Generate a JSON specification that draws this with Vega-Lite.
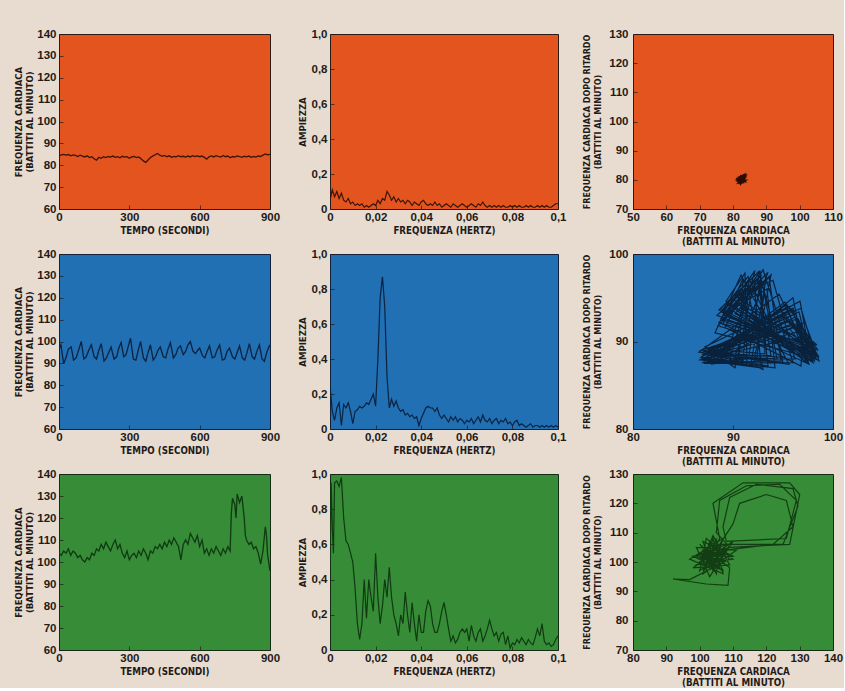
{
"$schema": "https://vega.github.io/schema/vega-lite/v6.json",
"background": "#e8dcd0",
"padding": {"left": 13, "top": 27, "right": 0, "bottom": 0},
"datasets": {
"ts1": [{"t":0,"hr":84.2},{"t":10,"hr":84.8},{"t":20,"hr":85.0},{"t":30,"hr":84.6},{"t":40,"hr":84.9},{"t":50,"hr":84.3},{"t":60,"hr":84.7},{"t":70,"hr":84.5},{"t":80,"hr":84.0},{"t":90,"hr":84.6},{"t":100,"hr":84.2},{"t":110,"hr":83.8},{"t":120,"hr":84.3},{"t":130,"hr":83.5},{"t":140,"hr":83.9},{"t":150,"hr":83.0},{"t":160,"hr":82.3},{"t":170,"hr":83.6},{"t":180,"hr":83.2},{"t":190,"hr":83.9},{"t":200,"hr":83.5},{"t":210,"hr":84.0},{"t":220,"hr":83.7},{"t":230,"hr":84.2},{"t":240,"hr":83.6},{"t":250,"hr":83.9},{"t":260,"hr":83.4},{"t":270,"hr":84.1},{"t":280,"hr":83.7},{"t":290,"hr":83.9},{"t":300,"hr":83.2},{"t":310,"hr":83.8},{"t":320,"hr":84.0},{"t":330,"hr":83.5},{"t":340,"hr":83.8},{"t":350,"hr":83.0},{"t":360,"hr":82.0},{"t":370,"hr":81.3},{"t":380,"hr":82.4},{"t":390,"hr":83.5},{"t":400,"hr":84.2},{"t":410,"hr":84.8},{"t":420,"hr":85.4},{"t":430,"hr":84.6},{"t":440,"hr":84.1},{"t":450,"hr":84.5},{"t":460,"hr":83.9},{"t":470,"hr":84.3},{"t":480,"hr":83.6},{"t":490,"hr":84.0},{"t":500,"hr":83.8},{"t":510,"hr":84.4},{"t":520,"hr":83.9},{"t":530,"hr":84.1},{"t":540,"hr":83.7},{"t":550,"hr":84.2},{"t":560,"hr":83.8},{"t":570,"hr":84.4},{"t":580,"hr":84.0},{"t":590,"hr":84.3},{"t":600,"hr":83.9},{"t":610,"hr":84.2},{"t":620,"hr":83.6},{"t":630,"hr":82.8},{"t":640,"hr":83.9},{"t":650,"hr":84.3},{"t":660,"hr":83.8},{"t":670,"hr":84.4},{"t":680,"hr":84.0},{"t":690,"hr":83.7},{"t":700,"hr":84.5},{"t":710,"hr":83.9},{"t":720,"hr":84.2},{"t":730,"hr":83.4},{"t":740,"hr":84.0},{"t":750,"hr":83.7},{"t":760,"hr":84.3},{"t":770,"hr":84.0},{"t":780,"hr":83.6},{"t":790,"hr":84.1},{"t":800,"hr":83.8},{"t":810,"hr":84.2},{"t":820,"hr":83.6},{"t":830,"hr":84.0},{"t":840,"hr":83.7},{"t":850,"hr":84.3},{"t":860,"hr":84.0},{"t":870,"hr":84.6},{"t":880,"hr":85.2},{"t":890,"hr":84.8},{"t":900,"hr":85.0}],
"ts2": [{"t":0,"hr":96.5},{"t":8,"hr":98.5},{"t":20,"hr":89.8},{"t":31,"hr":93},{"t":40,"hr":96.5},{"t":52,"hr":97.5},{"t":62,"hr":91.5},{"t":73,"hr":92.5},{"t":82,"hr":95.5},{"t":95,"hr":100},{"t":106,"hr":92},{"t":116,"hr":93},{"t":127,"hr":96},{"t":138,"hr":98.5},{"t":150,"hr":93},{"t":160,"hr":92},{"t":170,"hr":96},{"t":180,"hr":99},{"t":192,"hr":91},{"t":202,"hr":92.5},{"t":212,"hr":95},{"t":222,"hr":97.5},{"t":235,"hr":92},{"t":246,"hr":93},{"t":255,"hr":97},{"t":265,"hr":99.5},{"t":276,"hr":93},{"t":286,"hr":94},{"t":296,"hr":98},{"t":305,"hr":101.5},{"t":317,"hr":92},{"t":328,"hr":91.5},{"t":338,"hr":96},{"t":348,"hr":100},{"t":360,"hr":92.5},{"t":370,"hr":91},{"t":380,"hr":95},{"t":390,"hr":98.5},{"t":402,"hr":91.5},{"t":412,"hr":93},{"t":422,"hr":96},{"t":432,"hr":97.5},{"t":445,"hr":93},{"t":455,"hr":92.5},{"t":465,"hr":96.5},{"t":475,"hr":99.5},{"t":488,"hr":92.5},{"t":498,"hr":94},{"t":508,"hr":97},{"t":518,"hr":98},{"t":530,"hr":94},{"t":540,"hr":95.5},{"t":550,"hr":98.5},{"t":560,"hr":100},{"t":572,"hr":95.5},{"t":582,"hr":94.5},{"t":592,"hr":96},{"t":600,"hr":97},{"t":612,"hr":93.5},{"t":622,"hr":92.5},{"t":632,"hr":95.5},{"t":642,"hr":98},{"t":654,"hr":92.5},{"t":664,"hr":93},{"t":674,"hr":96},{"t":685,"hr":98.5},{"t":697,"hr":91.5},{"t":707,"hr":92},{"t":717,"hr":95.5},{"t":727,"hr":97},{"t":740,"hr":93},{"t":750,"hr":92},{"t":760,"hr":95},{"t":770,"hr":98},{"t":782,"hr":92.5},{"t":792,"hr":91.5},{"t":802,"hr":95},{"t":812,"hr":99},{"t":824,"hr":93},{"t":834,"hr":92},{"t":844,"hr":95.5},{"t":855,"hr":98.5},{"t":866,"hr":92},{"t":876,"hr":91},{"t":886,"hr":95},{"t":897,"hr":98},{"t":900,"hr":97.5}],
"ts3": [{"t":0,"hr":104},{"t":10,"hr":103},{"t":20,"hr":105},{"t":30,"hr":104},{"t":40,"hr":106},{"t":50,"hr":103},{"t":60,"hr":105},{"t":70,"hr":104},{"t":80,"hr":102},{"t":90,"hr":103},{"t":100,"hr":101},{"t":110,"hr":100},{"t":120,"hr":102},{"t":130,"hr":101},{"t":140,"hr":104},{"t":150,"hr":103},{"t":160,"hr":106},{"t":170,"hr":105},{"t":180,"hr":108},{"t":190,"hr":106},{"t":200,"hr":109},{"t":210,"hr":107},{"t":220,"hr":105},{"t":230,"hr":108},{"t":240,"hr":110},{"t":250,"hr":106},{"t":260,"hr":108},{"t":270,"hr":104},{"t":280,"hr":102},{"t":290,"hr":105},{"t":300,"hr":101},{"t":310,"hr":103},{"t":320,"hr":104},{"t":330,"hr":102},{"t":340,"hr":105},{"t":350,"hr":103},{"t":360,"hr":106},{"t":370,"hr":104},{"t":380,"hr":101},{"t":390,"hr":105},{"t":400,"hr":104},{"t":410,"hr":107},{"t":420,"hr":106},{"t":430,"hr":108},{"t":440,"hr":106},{"t":450,"hr":109},{"t":460,"hr":107},{"t":470,"hr":110},{"t":480,"hr":108},{"t":490,"hr":111},{"t":500,"hr":109},{"t":510,"hr":107},{"t":520,"hr":101},{"t":530,"hr":108},{"t":540,"hr":110},{"t":550,"hr":108},{"t":560,"hr":113},{"t":570,"hr":111},{"t":580,"hr":109},{"t":590,"hr":112},{"t":600,"hr":107},{"t":610,"hr":110},{"t":620,"hr":104},{"t":630,"hr":106},{"t":640,"hr":103},{"t":650,"hr":106},{"t":660,"hr":104},{"t":670,"hr":107},{"t":680,"hr":105},{"t":690,"hr":103},{"t":700,"hr":106},{"t":710,"hr":104},{"t":720,"hr":107},{"t":730,"hr":105},{"t":735,"hr":122},{"t":740,"hr":129},{"t":750,"hr":126},{"t":755,"hr":120},{"t":760,"hr":131},{"t":770,"hr":127},{"t":780,"hr":130},{"t":790,"hr":120},{"t":795,"hr":112},{"t":800,"hr":110},{"t":810,"hr":108},{"t":820,"hr":109},{"t":830,"hr":106},{"t":840,"hr":107},{"t":850,"hr":104},{"t":860,"hr":99},{"t":870,"hr":105},{"t":880,"hr":116},{"t":885,"hr":112},{"t":890,"hr":103},{"t":900,"hr":96}],
"sp1": [{"f":0,"a":0.05},{"f":0.001,"a":0.11},{"f":0.002,"a":0.07},{"f":0.003,"a":0.10},{"f":0.004,"a":0.06},{"f":0.005,"a":0.09},{"f":0.006,"a":0.05},{"f":0.007,"a":0.04},{"f":0.008,"a":0.06},{"f":0.009,"a":0.03},{"f":0.010,"a":0.04},{"f":0.011,"a":0.02},{"f":0.012,"a":0.03},{"f":0.013,"a":0.02},{"f":0.014,"a":0.03},{"f":0.015,"a":0.01},{"f":0.016,"a":0.02},{"f":0.017,"a":0.01},{"f":0.018,"a":0.02},{"f":0.019,"a":0.03},{"f":0.020,"a":0.02},{"f":0.021,"a":0.05},{"f":0.022,"a":0.03},{"f":0.023,"a":0.06},{"f":0.024,"a":0.05},{"f":0.025,"a":0.10},{"f":0.026,"a":0.08},{"f":0.027,"a":0.05},{"f":0.028,"a":0.07},{"f":0.029,"a":0.04},{"f":0.030,"a":0.06},{"f":0.031,"a":0.04},{"f":0.032,"a":0.05},{"f":0.033,"a":0.03},{"f":0.034,"a":0.05},{"f":0.035,"a":0.04},{"f":0.036,"a":0.02},{"f":0.037,"a":0.04},{"f":0.038,"a":0.03},{"f":0.039,"a":0.02},{"f":0.040,"a":0.04},{"f":0.041,"a":0.05},{"f":0.042,"a":0.03},{"f":0.043,"a":0.02},{"f":0.044,"a":0.03},{"f":0.045,"a":0.02},{"f":0.046,"a":0.04},{"f":0.047,"a":0.02},{"f":0.048,"a":0.03},{"f":0.049,"a":0.01},{"f":0.050,"a":0.02},{"f":0.051,"a":0.03},{"f":0.052,"a":0.02},{"f":0.053,"a":0.01},{"f":0.054,"a":0.03},{"f":0.055,"a":0.02},{"f":0.056,"a":0.01},{"f":0.057,"a":0.02},{"f":0.058,"a":0.03},{"f":0.059,"a":0.02},{"f":0.060,"a":0.01},{"f":0.061,"a":0.02},{"f":0.062,"a":0.03},{"f":0.063,"a":0.02},{"f":0.064,"a":0.01},{"f":0.065,"a":0.03},{"f":0.066,"a":0.02},{"f":0.067,"a":0.04},{"f":0.068,"a":0.02},{"f":0.069,"a":0.01},{"f":0.070,"a":0.02},{"f":0.071,"a":0.01},{"f":0.072,"a":0.02},{"f":0.073,"a":0.01},{"f":0.074,"a":0.02},{"f":0.075,"a":0.01},{"f":0.076,"a":0.02},{"f":0.077,"a":0.01},{"f":0.078,"a":0.01},{"f":0.079,"a":0.02},{"f":0.080,"a":0.01},{"f":0.081,"a":0.02},{"f":0.082,"a":0.01},{"f":0.083,"a":0.02},{"f":0.084,"a":0.01},{"f":0.085,"a":0.01},{"f":0.086,"a":0.02},{"f":0.087,"a":0.01},{"f":0.088,"a":0.02},{"f":0.089,"a":0.01},{"f":0.090,"a":0.01},{"f":0.091,"a":0.02},{"f":0.092,"a":0.01},{"f":0.093,"a":0.02},{"f":0.094,"a":0.01},{"f":0.095,"a":0.02},{"f":0.096,"a":0.01},{"f":0.097,"a":0.01},{"f":0.098,"a":0.02},{"f":0.099,"a":0.03},{"f":0.100,"a":0.03}],
"sp2": [{"f":0,"a":0.25},{"f":0.001,"a":0.10},{"f":0.002,"a":0.05},{"f":0.003,"a":0.12},{"f":0.004,"a":0.15},{"f":0.005,"a":0.02},{"f":0.006,"a":0.14},{"f":0.007,"a":0.12},{"f":0.008,"a":0.15},{"f":0.009,"a":0.10},{"f":0.010,"a":0.03},{"f":0.011,"a":0.10},{"f":0.012,"a":0.11},{"f":0.013,"a":0.13},{"f":0.014,"a":0.12},{"f":0.015,"a":0.13},{"f":0.016,"a":0.15},{"f":0.017,"a":0.14},{"f":0.018,"a":0.17},{"f":0.019,"a":0.20},{"f":0.020,"a":0.13},{"f":0.021,"a":0.40},{"f":0.022,"a":0.75},{"f":0.023,"a":0.87},{"f":0.024,"a":0.70},{"f":0.025,"a":0.30},{"f":0.026,"a":0.12},{"f":0.027,"a":0.17},{"f":0.028,"a":0.13},{"f":0.029,"a":0.16},{"f":0.030,"a":0.12},{"f":0.031,"a":0.10},{"f":0.032,"a":0.11},{"f":0.033,"a":0.08},{"f":0.034,"a":0.09},{"f":0.035,"a":0.07},{"f":0.036,"a":0.08},{"f":0.037,"a":0.06},{"f":0.038,"a":0.07},{"f":0.039,"a":0.02},{"f":0.040,"a":0.06},{"f":0.041,"a":0.09},{"f":0.042,"a":0.12},{"f":0.043,"a":0.13},{"f":0.044,"a":0.12},{"f":0.045,"a":0.12},{"f":0.046,"a":0.10},{"f":0.047,"a":0.12},{"f":0.048,"a":0.08},{"f":0.049,"a":0.06},{"f":0.050,"a":0.08},{"f":0.051,"a":0.06},{"f":0.052,"a":0.04},{"f":0.053,"a":0.07},{"f":0.054,"a":0.05},{"f":0.055,"a":0.07},{"f":0.056,"a":0.04},{"f":0.057,"a":0.06},{"f":0.058,"a":0.05},{"f":0.059,"a":0.03},{"f":0.060,"a":0.05},{"f":0.061,"a":0.04},{"f":0.062,"a":0.06},{"f":0.063,"a":0.03},{"f":0.064,"a":0.05},{"f":0.065,"a":0.07},{"f":0.066,"a":0.04},{"f":0.067,"a":0.08},{"f":0.068,"a":0.05},{"f":0.069,"a":0.04},{"f":0.070,"a":0.06},{"f":0.071,"a":0.03},{"f":0.072,"a":0.05},{"f":0.073,"a":0.06},{"f":0.074,"a":0.03},{"f":0.075,"a":0.05},{"f":0.076,"a":0.04},{"f":0.077,"a":0.06},{"f":0.078,"a":0.03},{"f":0.079,"a":0.04},{"f":0.080,"a":0.02},{"f":0.081,"a":0.04},{"f":0.082,"a":0.05},{"f":0.083,"a":0.02},{"f":0.084,"a":0.03},{"f":0.085,"a":0.02},{"f":0.086,"a":0.01},{"f":0.087,"a":0.02},{"f":0.088,"a":0.03},{"f":0.089,"a":0.01},{"f":0.090,"a":0.02},{"f":0.091,"a":0.02},{"f":0.092,"a":0.01},{"f":0.093,"a":0.02},{"f":0.094,"a":0.01},{"f":0.095,"a":0.02},{"f":0.096,"a":0.01},{"f":0.097,"a":0.02},{"f":0.098,"a":0.01},{"f":0.099,"a":0.02},{"f":0.100,"a":0.01}],
"sp3": [{"f":0,"a":0.45},{"f":0.0005,"a":0.95},{"f":0.001,"a":0.70},{"f":0.0015,"a":0.55},{"f":0.002,"a":0.95},{"f":0.003,"a":0.96},{"f":0.004,"a":0.93},{"f":0.005,"a":0.98},{"f":0.006,"a":0.75},{"f":0.007,"a":0.62},{"f":0.008,"a":0.60},{"f":0.009,"a":0.55},{"f":0.010,"a":0.50},{"f":0.011,"a":0.35},{"f":0.012,"a":0.15},{"f":0.013,"a":0.06},{"f":0.014,"a":0.15},{"f":0.015,"a":0.40},{"f":0.016,"a":0.18},{"f":0.017,"a":0.40},{"f":0.018,"a":0.30},{"f":0.019,"a":0.22},{"f":0.020,"a":0.55},{"f":0.021,"a":0.30},{"f":0.022,"a":0.15},{"f":0.023,"a":0.25},{"f":0.024,"a":0.40},{"f":0.025,"a":0.30},{"f":0.026,"a":0.47},{"f":0.027,"a":0.30},{"f":0.028,"a":0.20},{"f":0.029,"a":0.15},{"f":0.030,"a":0.08},{"f":0.031,"a":0.20},{"f":0.032,"a":0.15},{"f":0.033,"a":0.33},{"f":0.034,"a":0.20},{"f":0.035,"a":0.10},{"f":0.036,"a":0.27},{"f":0.037,"a":0.15},{"f":0.038,"a":0.05},{"f":0.039,"a":0.20},{"f":0.040,"a":0.10},{"f":0.041,"a":0.10},{"f":0.042,"a":0.22},{"f":0.043,"a":0.28},{"f":0.044,"a":0.25},{"f":0.045,"a":0.15},{"f":0.046,"a":0.10},{"f":0.047,"a":0.10},{"f":0.048,"a":0.15},{"f":0.049,"a":0.22},{"f":0.050,"a":0.27},{"f":0.051,"a":0.20},{"f":0.052,"a":0.12},{"f":0.053,"a":0.05},{"f":0.054,"a":0.08},{"f":0.055,"a":0.04},{"f":0.056,"a":0.06},{"f":0.057,"a":0.10},{"f":0.058,"a":0.12},{"f":0.059,"a":0.10},{"f":0.060,"a":0.12},{"f":0.061,"a":0.05},{"f":0.062,"a":0.14},{"f":0.063,"a":0.08},{"f":0.064,"a":0.05},{"f":0.065,"a":0.10},{"f":0.066,"a":0.12},{"f":0.067,"a":0.05},{"f":0.068,"a":0.08},{"f":0.069,"a":0.12},{"f":0.070,"a":0.17},{"f":0.071,"a":0.12},{"f":0.072,"a":0.08},{"f":0.073,"a":0.10},{"f":0.074,"a":0.05},{"f":0.075,"a":0.09},{"f":0.076,"a":0.10},{"f":0.077,"a":0.03},{"f":0.078,"a":0.08},{"f":0.079,"a":0.01},{"f":0.080,"a":0.04},{"f":0.081,"a":0.03},{"f":0.082,"a":0.06},{"f":0.083,"a":0.04},{"f":0.084,"a":0.07},{"f":0.085,"a":0.05},{"f":0.086,"a":0.03},{"f":0.087,"a":0.06},{"f":0.088,"a":0.04},{"f":0.089,"a":0.03},{"f":0.090,"a":0.07},{"f":0.091,"a":0.12},{"f":0.092,"a":0.08},{"f":0.093,"a":0.15},{"f":0.094,"a":0.05},{"f":0.095,"a":0.03},{"f":0.096,"a":0.04},{"f":0.097,"a":0.02},{"f":0.098,"a":0.03},{"f":0.099,"a":0.06},{"f":0.100,"a":0.08}],
"ph1": [{"i":0,"x":82.0,"y":80.2},{"i":1,"x":83.2,"y":79.4},{"i":2,"x":81.6,"y":79.0},{"i":3,"x":82.8,"y":80.8},{"i":4,"x":83.5,"y":80.0},{"i":5,"x":81.8,"y":80.6},{"i":6,"x":82.4,"y":78.8},{"i":7,"x":83.6,"y":80.7},{"i":8,"x":81.3,"y":79.9},{"i":9,"x":82.9,"y":79.2},{"i":10,"x":82.1,"y":81.1},{"i":11,"x":83.8,"y":81.5},{"i":12,"x":82.6,"y":79.8},{"i":13,"x":81.5,"y":79.4},{"i":14,"x":83.0,"y":80.5},{"i":15,"x":82.2,"y":78.6},{"i":16,"x":81.2,"y":80.4},{"i":17,"x":83.4,"y":81.0},{"i":18,"x":82.7,"y":79.1},{"i":19,"x":81.9,"y":80.0},{"i":20,"x":83.1,"y":80.2},{"i":21,"x":82.3,"y":81.3},{"i":22,"x":81.4,"y":79.7},{"i":23,"x":83.7,"y":79.8},{"i":24,"x":82.5,"y":78.9},{"i":25,"x":81.7,"y":80.8},{"i":26,"x":83.3,"y":81.7},{"i":27,"x":82.0,"y":79.5},{"i":28,"x":83.6,"y":79.4},{"i":29,"x":82.4,"y":80.7}],
"ph2": [{"i":0,"x":92.5,"y":97.8},{"i":1,"x":93.5,"y":87.2},{"i":2,"x":86.8,"y":88.2},{"i":3,"x":95.9,"y":93.6},{"i":4,"x":98.2,"y":88.0},{"i":5,"x":89.0,"y":93.4},{"i":6,"x":91.6,"y":97.0},{"i":7,"x":91.0,"y":87.6},{"i":8,"x":87.5,"y":89.0},{"i":9,"x":96.4,"y":92.0},{"i":10,"x":97.6,"y":87.4},{"i":11,"x":88.6,"y":92.2},{"i":12,"x":93.6,"y":97.4},{"i":13,"x":94.8,"y":87.8},{"i":14,"x":87.0,"y":87.6},{"i":15,"x":95.2,"y":94.5},{"i":16,"x":98.5,"y":89.0},{"i":17,"x":90.0,"y":94.8},{"i":18,"x":92.0,"y":96.2},{"i":19,"x":90.2,"y":87.0},{"i":20,"x":88.2,"y":88.6},{"i":21,"x":96.8,"y":91.2},{"i":22,"x":97.0,"y":88.4},{"i":23,"x":88.2,"y":91.0},{"i":24,"x":90.8,"y":97.6},{"i":25,"x":95.6,"y":87.4},{"i":26,"x":86.6,"y":88.8},{"i":27,"x":94.6,"y":95.4},{"i":28,"x":98.0,"y":87.6},{"i":29,"x":89.6,"y":93.8},{"i":30,"x":93.2,"y":96.6},{"i":31,"x":92.4,"y":88.2},{"i":32,"x":87.8,"y":87.4},{"i":33,"x":96.2,"y":92.8},{"i":34,"x":97.4,"y":89.4},{"i":35,"x":88.8,"y":92.6},{"i":36,"x":92.2,"y":98.1},{"i":37,"x":89.6,"y":87.6},{"i":38,"x":87.2,"y":89.4},{"i":39,"x":95.6,"y":94.0},{"i":40,"x":98.6,"y":88.2},{"i":41,"x":90.4,"y":95.2},{"i":42,"x":94.0,"y":97.0},{"i":43,"x":96.2,"y":88.0},{"i":44,"x":86.9,"y":88.0},{"i":45,"x":97.0,"y":90.6},{"i":46,"x":96.8,"y":87.2},{"i":47,"x":89.2,"y":91.6},{"i":48,"x":91.4,"y":96.6},{"i":49,"x":93.0,"y":86.8},{"i":50,"x":88.0,"y":89.2},{"i":51,"x":95.0,"y":93.0},{"i":52,"x":98.3,"y":88.6},{"i":53,"x":88.4,"y":93.0},{"i":54,"x":92.8,"y":97.5},{"i":55,"x":91.6,"y":88.4},{"i":56,"x":87.4,"y":88.4},{"i":57,"x":96.6,"y":93.4},{"i":58,"x":97.8,"y":87.8},{"i":59,"x":90.6,"y":94.2},{"i":60,"x":93.4,"y":96.0},{"i":61,"x":94.2,"y":87.0},{"i":62,"x":86.7,"y":87.9},{"i":63,"x":95.4,"y":92.4},{"i":64,"x":98.4,"y":89.6},{"i":65,"x":89.0,"y":92.0},{"i":66,"x":91.0,"y":97.2},{"i":67,"x":90.6,"y":88.0},{"i":68,"x":88.4,"y":88.0},{"i":69,"x":96.0,"y":95.0},{"i":70,"x":97.2,"y":88.0},{"i":71,"x":88.6,"y":93.6},{"i":72,"x":92.6,"y":98.0},{"i":73,"x":95.0,"y":87.6},{"i":74,"x":87.0,"y":88.9},{"i":75,"x":96.9,"y":91.8},{"i":76,"x":98.1,"y":88.5},{"i":77,"x":90.2,"y":93.2},{"i":78,"x":93.8,"y":97.6},{"i":79,"x":92.0,"y":87.2},{"i":80,"x":87.6,"y":87.7},{"i":81,"x":95.3,"y":94.2},{"i":82,"x":97.5,"y":87.5},{"i":83,"x":89.4,"y":94.4},{"i":84,"x":91.8,"y":96.4},{"i":85,"x":89.2,"y":88.2},{"i":86,"x":86.8,"y":89.0},{"i":87,"x":96.5,"y":92.6},{"i":88,"x":98.4,"y":88.3},{"i":89,"x":88.9,"y":92.4},{"i":90,"x":92.4,"y":97.2},{"i":91,"x":93.8,"y":88.4},{"i":92,"x":87.9,"y":88.3},{"i":93,"x":94.8,"y":93.6},{"i":94,"x":97.9,"y":89.2},{"i":95,"x":90.8,"y":93.8},{"i":96,"x":93.0,"y":98.2},{"i":97,"x":96.0,"y":87.6},{"i":98,"x":87.1,"y":87.5},{"i":99,"x":97.2,"y":92.2},{"i":100,"x":98.6,"y":87.8},{"i":101,"x":89.3,"y":94.6},{"i":102,"x":91.2,"y":97.8},{"i":103,"x":91.4,"y":87.4},{"i":104,"x":88.6,"y":89.4},{"i":105,"x":96.0,"y":93.8},{"i":106,"x":97.1,"y":88.8},{"i":107,"x":88.5,"y":91.8},{"i":108,"x":92.9,"y":96.8},{"i":109,"x":94.4,"y":88.0},{"i":110,"x":86.9,"y":88.5},{"i":111,"x":95.7,"y":91.4},{"i":112,"x":98.2,"y":87.7},{"i":113,"x":90.1,"y":94.0},{"i":114,"x":93.5,"y":97.9},{"i":115,"x":90.0,"y":87.8},{"i":116,"x":87.6,"y":88.9},{"i":117,"x":96.7,"y":94.6},{"i":118,"x":97.6,"y":89.0},{"i":119,"x":89.1,"y":93.0},{"i":120,"x":92.1,"y":96.9},{"i":121,"x":92.8,"y":87.0},{"i":122,"x":87.3,"y":87.8},{"i":123,"x":95.1,"y":92.8},{"i":124,"x":98.5,"y":88.4},{"i":125,"x":88.8,"y":93.4},{"i":126,"x":91.5,"y":97.4},{"i":127,"x":95.2,"y":88.2},{"i":128,"x":88.0,"y":88.7},{"i":129,"x":96.3,"y":93.2},{"i":130,"x":97.3,"y":87.6},{"i":131,"x":90.3,"y":94.5},{"i":132,"x":93.3,"y":97.1},{"i":133,"x":91.8,"y":87.5},{"i":134,"x":86.8,"y":88.0},{"i":135,"x":95.9,"y":92.0},{"i":136,"x":98.0,"y":89.3},{"i":137,"x":89.5,"y":92.8},{"i":138,"x":92.7,"y":98.0},{"i":139,"x":93.2,"y":88.6},{"i":140,"x":87.5,"y":89.1},{"i":141,"x":96.8,"y":93.8},{"i":142,"x":98.3,"y":88.1},{"i":143,"x":88.7,"y":93.8}],
"ph3": [{"i":0,"x":104,"y":106},{"i":1,"x":106,"y":98},{"i":2,"x":100,"y":103},{"i":3,"x":108,"y":103},{"i":4,"x":101,"y":99},{"i":5,"x":103,"y":107},{"i":6,"x":107,"y":97},{"i":7,"x":98,"y":102},{"i":8,"x":109,"y":105},{"i":9,"x":100,"y":97},{"i":10,"x":102,"y":108},{"i":11,"x":110,"y":101},{"i":12,"x":99,"y":99},{"i":13,"x":106,"y":106},{"i":14,"x":105,"y":96},{"i":15,"x":101,"y":104},{"i":16,"x":107,"y":101},{"i":17,"x":104,"y":98},{"i":18,"x":103,"y":104},{"i":19,"x":105,"y":99},{"i":20,"x":102,"y":103},{"i":21,"x":106,"y":103},{"i":22,"x":101,"y":101},{"i":23,"x":104,"y":109},{"i":24,"x":109,"y":99},{"i":25,"x":98,"y":98},{"i":26,"x":110,"y":107},{"i":27,"x":103,"y":95},{"i":28,"x":99,"y":105},{"i":29,"x":111,"y":104},{"i":30,"x":101,"y":96},{"i":31,"x":104,"y":108},{"i":32,"x":107,"y":96},{"i":33,"x":97,"y":101},{"i":34,"x":107,"y":108},{"i":35,"x":104,"y":97},{"i":36,"x":101,"y":107},{"i":37,"x":110,"y":102},{"i":38,"x":100,"y":100},{"i":39,"x":106,"y":104},{"i":40,"x":102,"y":105},{"i":41,"x":105,"y":100},{"i":42,"x":103,"y":99},{"i":43,"x":103,"y":102},{"i":44,"x":106,"y":108},{"i":45,"x":104,"y":120},{"i":46,"x":113,"y":127},{"i":47,"x":127,"y":127},{"i":48,"x":130,"y":123},{"i":49,"x":127,"y":106},{"i":50,"x":109,"y":105},{"i":51,"x":105,"y":110},{"i":52,"x":106,"y":121},{"i":53,"x":114,"y":126},{"i":54,"x":124,"y":126.5},{"i":55,"x":129,"y":121},{"i":56,"x":126,"y":108},{"i":57,"x":108,"y":107},{"i":58,"x":107,"y":112},{"i":59,"x":109,"y":122},{"i":60,"x":117,"y":126.5},{"i":61,"x":128,"y":125},{"i":62,"x":129.5,"y":119},{"i":63,"x":125,"y":106},{"i":64,"x":106,"y":106},{"i":65,"x":110,"y":113},{"i":66,"x":112,"y":120},{"i":67,"x":120,"y":123},{"i":68,"x":126,"y":121},{"i":69,"x":128,"y":112},{"i":70,"x":122,"y":106},{"i":71,"x":107,"y":104},{"i":72,"x":105,"y":105},{"i":73,"x":102,"y":102},{"i":74,"x":107,"y":102},{"i":75,"x":101,"y":97},{"i":76,"x":104,"y":104},{"i":77,"x":106,"y":98},{"i":78,"x":99,"y":102},{"i":79,"x":108,"y":106},{"i":80,"x":104,"y":99},{"i":81,"x":103,"y":106},{"i":82,"x":109,"y":101},{"i":83,"x":97,"y":94},{"i":84,"x":92,"y":94.2},{"i":85,"x":102,"y":92.5},{"i":86,"x":108.5,"y":92},{"i":87,"x":109,"y":98},{"i":88,"x":100,"y":106},{"i":89,"x":106,"y":99},{"i":90,"x":105,"y":108},{"i":91,"x":102,"y":98},{"i":92,"x":108,"y":104},{"i":93,"x":100,"y":102},{"i":94,"x":106,"y":101},{"i":95,"x":104,"y":105},{"i":96,"x":103,"y":100},{"i":97,"x":105,"y":106}]
},
"concat": [
{"width": 211, "height": 175, "data": {"name": "ts1"},
 "view": {"fill": "#e4541f", "stroke": "#2b1d15", "strokeWidth": 1},
 "mark": {"type": "line", "color": "#3b140a", "strokeWidth": 1.3, "clip": true},
 "encoding": {
  "x": {"field": "t", "type": "quantitative", "scale": {"domain": [0, 900], "nice": false, "zero": false}, "axis": {"values": [0, 300, 600, 900], "title": "TEMPO  (SECONDI)"}},
  "y": {"field": "hr", "type": "quantitative", "scale": {"domain": [60, 140], "nice": false, "zero": false}, "axis": {"values": [60, 70, 80, 90, 100, 110, 120, 130, 140], "title": ["FREQUENZA CARDIACA", "(BATTITI AL MINUTO)"], "titlePadding": 2}}
 }},
{"width": 228, "height": 175, "data": {"name": "sp1"},
 "view": {"fill": "#e4541f", "stroke": "#2b1d15", "strokeWidth": 1},
 "mark": {"type": "line", "color": "#3b140a", "strokeWidth": 1.2, "clip": true},
 "encoding": {
  "x": {"field": "f", "type": "quantitative", "scale": {"domain": [0, 0.1], "nice": false}, "axis": {"values": [0, 0.02, 0.04, 0.06, 0.08, 0.1], "labelExpr": "replace(format(datum.value, '.2~f'), '.', ',')", "title": "FREQUENZA  (HERTZ)"}},
  "y": {"field": "a", "type": "quantitative", "scale": {"domain": [0, 1], "nice": false}, "axis": {"values": [0, 0.2, 0.4, 0.6, 0.8, 1], "labelExpr": "datum.value == 0 ? '0' : replace(format(datum.value, '.1f'), '.', ',')", "title": "AMPIEZZA", "titlePadding": 4}}
 }},
{"width": 200, "height": 175, "data": {"name": "ph1"},
 "view": {"fill": "#e4541f", "stroke": "#2b1d15", "strokeWidth": 1},
 "mark": {"type": "line", "color": "#2a0c05", "strokeWidth": 1.8, "clip": true},
 "encoding": {
  "x": {"field": "x", "type": "quantitative", "scale": {"domain": [50, 110], "nice": false, "zero": false}, "axis": {"values": [50, 60, 70, 80, 90, 100, 110], "title": ["FREQUENZA CARDIACA", "(BATTITI AL MINUTO)"]}},
  "y": {"field": "y", "type": "quantitative", "scale": {"domain": [70, 130], "nice": false, "zero": false}, "axis": {"values": [70, 80, 90, 100, 110, 120, 130], "title": ["FREQUENZA CARDIACA DOPO RITARDO", "(BATTITI AL MINUTO)"], "titlePadding": 6, "labelPadding": 9, "titleFontSize": 8.9}},
  "order": {"field": "i", "type": "quantitative"}
 }},
{"width": 211, "height": 175, "data": {"name": "ts2"},
 "view": {"fill": "#2170b4", "stroke": "#14213a", "strokeWidth": 1},
 "mark": {"type": "line", "color": "#0b2240", "strokeWidth": 1.3, "clip": true},
 "encoding": {
  "x": {"field": "t", "type": "quantitative", "scale": {"domain": [0, 900], "nice": false, "zero": false}, "axis": {"values": [0, 300, 600, 900], "title": "TEMPO  (SECONDI)"}},
  "y": {"field": "hr", "type": "quantitative", "scale": {"domain": [60, 140], "nice": false, "zero": false}, "axis": {"values": [60, 70, 80, 90, 100, 110, 120, 130, 140], "title": ["FREQUENZA CARDIACA", "(BATTITI AL MINUTO)"], "titlePadding": 2}}
 }},
{"width": 228, "height": 175, "data": {"name": "sp2"},
 "view": {"fill": "#2170b4", "stroke": "#14213a", "strokeWidth": 1},
 "mark": {"type": "line", "color": "#0b2240", "strokeWidth": 1.2, "clip": true},
 "encoding": {
  "x": {"field": "f", "type": "quantitative", "scale": {"domain": [0, 0.1], "nice": false}, "axis": {"values": [0, 0.02, 0.04, 0.06, 0.08, 0.1], "labelExpr": "replace(format(datum.value, '.2~f'), '.', ',')", "title": "FREQUENZA  (HERTZ)"}},
  "y": {"field": "a", "type": "quantitative", "scale": {"domain": [0, 1], "nice": false}, "axis": {"values": [0, 0.2, 0.4, 0.6, 0.8, 1], "labelExpr": "datum.value == 0 ? '0' : replace(format(datum.value, '.1f'), '.', ',')", "title": "AMPIEZZA", "titlePadding": 4}}
 }},
{"width": 200, "height": 175, "data": {"name": "ph2"},
 "view": {"fill": "#2170b4", "stroke": "#14213a", "strokeWidth": 1},
 "mark": {"type": "line", "color": "#08182e", "strokeWidth": 1.2, "opacity": 0.9, "clip": true},
 "encoding": {
  "x": {"field": "x", "type": "quantitative", "scale": {"domain": [80, 100], "nice": false, "zero": false}, "axis": {"values": [80, 90, 100], "title": ["FREQUENZA CARDIACA", "(BATTITI AL MINUTO)"]}},
  "y": {"field": "y", "type": "quantitative", "scale": {"domain": [80, 100], "nice": false, "zero": false}, "axis": {"values": [80, 90, 100], "title": ["FREQUENZA CARDIACA DOPO RITARDO", "(BATTITI AL MINUTO)"], "titlePadding": 6, "labelPadding": 9, "titleFontSize": 8.9}},
  "order": {"field": "i", "type": "quantitative"}
 }},
{"width": 211, "height": 176, "data": {"name": "ts3"},
 "view": {"fill": "#378c37", "stroke": "#142b14", "strokeWidth": 1},
 "mark": {"type": "line", "color": "#0f3a12", "strokeWidth": 1.3, "clip": true},
 "encoding": {
  "x": {"field": "t", "type": "quantitative", "scale": {"domain": [0, 900], "nice": false, "zero": false}, "axis": {"values": [0, 300, 600, 900], "title": "TEMPO  (SECONDI)"}},
  "y": {"field": "hr", "type": "quantitative", "scale": {"domain": [60, 140], "nice": false, "zero": false}, "axis": {"values": [60, 70, 80, 90, 100, 110, 120, 130, 140], "title": ["FREQUENZA CARDIACA", "(BATTITI AL MINUTO)"], "titlePadding": 2}}
 }},
{"width": 228, "height": 176, "data": {"name": "sp3"},
 "view": {"fill": "#378c37", "stroke": "#142b14", "strokeWidth": 1},
 "mark": {"type": "line", "color": "#0f3a12", "strokeWidth": 1.2, "clip": true},
 "encoding": {
  "x": {"field": "f", "type": "quantitative", "scale": {"domain": [0, 0.1], "nice": false}, "axis": {"values": [0, 0.02, 0.04, 0.06, 0.08, 0.1], "labelExpr": "replace(format(datum.value, '.2~f'), '.', ',')", "title": "FREQUENZA  (HERTZ)"}},
  "y": {"field": "a", "type": "quantitative", "scale": {"domain": [0, 1], "nice": false}, "axis": {"values": [0, 0.2, 0.4, 0.6, 0.8, 1], "labelExpr": "datum.value == 0 ? '0' : replace(format(datum.value, '.1f'), '.', ',')", "title": "AMPIEZZA", "titlePadding": 4}}
 }},
{"width": 200, "height": 176, "data": {"name": "ph3"},
 "view": {"fill": "#378c37", "stroke": "#142b14", "strokeWidth": 1},
 "mark": {"type": "line", "color": "#0f3510", "strokeWidth": 1.2, "opacity": 0.9, "clip": true},
 "encoding": {
  "x": {"field": "x", "type": "quantitative", "scale": {"domain": [80, 140], "nice": false, "zero": false}, "axis": {"values": [80, 90, 100, 110, 120, 130, 140], "title": ["FREQUENZA CARDIACA", "(BATTITI AL MINUTO)"]}},
  "y": {"field": "y", "type": "quantitative", "scale": {"domain": [70, 130], "nice": false, "zero": false}, "axis": {"values": [70, 80, 90, 100, 110, 120, 130], "title": ["FREQUENZA CARDIACA DOPO RITARDO", "(BATTITI AL MINUTO)"], "titlePadding": 6, "labelPadding": 9, "titleFontSize": 8.9}},
  "order": {"field": "i", "type": "quantitative"}
 }}
],
"columns": 3,
"align": "each",
"bounds": "full",
"spacing": {"row": 0, "column": 15},
"config": {
 "axis": {"grid": false, "domain": false, "labelFont": "Liberation Sans, Arial, sans-serif", "labelFontWeight": "bold", "labelFontSize": 11.5, "labelColor": "#1f1b18", "titleFont": "DejaVu Sans Condensed, DejaVu Sans, sans-serif", "titleFontWeight": "bold", "titleColor": "#1f1b18", "labelFlush": false, "labelOverlap": false, "tickSize": -4, "tickColor": "#1f1b18", "tickOpacity": 0.7, "tickWidth": 1, "labelPadding": 7},
 "axisX": {"titleFontSize": 9.7, "titlePadding": 3, "labelPadding": 6, "titleLineHeight": 11},
 "axisY": {"titleFontSize": 9.5, "titleLineHeight": 11}
}
}
